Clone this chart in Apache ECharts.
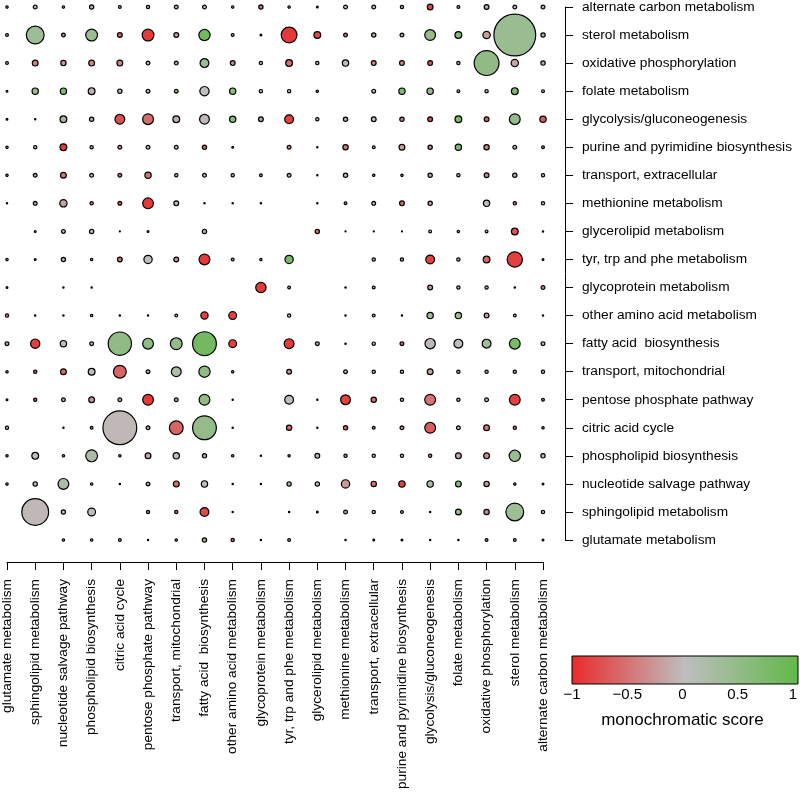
<!DOCTYPE html>
<html><head><meta charset="utf-8">
<script src="https://cdn.jsdelivr.net/npm/echarts@6/dist/echarts.min.js"></script>
<style>html,body{margin:0;padding:0;background:#fff}#c{width:800px;height:792px}</style>
</head><body><div id="c"></div>
<script>
const rowNames = ["alternate carbon metabolism","sterol metabolism","oxidative phosphorylation","folate metabolism","glycolysis/gluconeogenesis","purine and pyrimidine biosynthesis","transport, extracellular","methionine metabolism","glycerolipid metabolism","tyr, trp and phe metabolism","glycoprotein metabolism","other amino acid metabolism","fatty acid  biosynthesis","transport, mitochondrial","pentose phosphate pathway","citric acid cycle","phospholipid biosynthesis","nucleotide salvage pathway","sphingolipid metabolism","glutamate metabolism"];
const colNames = ["glutamate metabolism","sphingolipid metabolism","nucleotide salvage pathway","phospholipid biosynthesis","citric acid cycle","pentose phosphate pathway","transport, mitochondrial","fatty acid  biosynthesis","other amino acid metabolism","glycoprotein metabolism","tyr, trp and phe metabolism","glycerolipid metabolism","methionine metabolism","transport, extracellular","purine and pyrimidine biosynthesis","glycolysis/gluconeogenesis","folate metabolism","oxidative phosphorylation","sterol metabolism","alternate carbon metabolism"];
// bubble diameters (px) per row, top to bottom; 0 = no bubble
const sizes = [
 [3.5,5,3.5,5.5,4,4.5,5,5,3.5,5.5,3.5,3,5,5,4.5,7,4,6,5,5],
 [4,19,5,13,6,13,6,12.5,4,3,17,8,5,5.5,5,12,8,8.5,43,5.5],
 [4,7,6.5,7,7,5,5,10,6,4.5,8,4.5,7.5,6,6,6,4.5,26,8.5,5.5],
 [3,7.5,7.5,8,5.5,5,5,10.5,7.5,4.5,4.5,3.5,0,5,7.5,7.5,4,4.5,8,4],
 [3,2.5,8,5.5,11,12,8,11,7.5,6,10,4.5,5.5,6,5.5,6,8,6,12,7.5],
 [3.5,4.5,8,4.5,5,5,5,5.5,3,0,5,2.5,6.5,4,7,5.5,7.5,6.5,5,4],
 [3.5,5,7,5,5,7.5,4.5,5,4.5,4,5,2.5,5.5,3.5,3.5,5.5,4.5,6,5.5,4.5],
 [2.5,5,8.5,4.5,5,12,6,2.5,2.5,2.5,0,2.5,4,5,6,5.5,0,7.5,4.5,4.5],
 [0,3,5,5.5,2,3,0,5.5,0,0,0,5.5,2,2,2,4,3.5,4,8,2.5],
 [3.5,3,5.5,3.5,6,9.5,6,12,4,3.5,9.5,0,0,4.5,4.5,10,4.5,8,16.5,3],
 [3,0,2.5,2.5,0,0,0,0,0,11.5,4,0,2.5,4,0,6,4.5,4.5,2.5,5],
 [4.5,2.5,2.5,3.5,2.5,2.5,4,8.5,9,0,4.5,0,2.5,4,2.5,7.5,7.5,6,4,2.5],
 [5,10.5,7.5,5,24.5,12,13,25,9,0,11,5,2.5,4.5,5,11.5,10,10,12,5],
 [3.5,4.5,7,8,14,5,11,12.5,3.5,0,6,0,5,4.5,4.5,7,4.5,4.5,4.5,4.5],
 [3,4.5,5,7,5,12,5,12,2.5,0,10,2.5,11,6.5,4.5,12,4.5,5,12,4],
 [4.5,0,2.5,4,35,5,15,25,2.5,0,6.5,2.5,5.5,4,5,12,5,7,4.5,3.5],
 [3.5,8,3.5,13,3.5,7,7.5,5.5,3.5,2.5,3.5,6,4.5,4.5,4.5,4.5,7,7,12.5,5.5],
 [3.5,5.5,12,3.5,2.5,5,7,7.5,2.5,2.5,5.5,5.5,9.5,6.5,7.5,7.5,7,6.5,3.5,3],
 [0,28,5.5,9,0,4.5,4.5,10,2.5,0,2.5,3,5,4.5,4,2.5,7,6.5,19,4.5],
 [0,0,3.5,3.5,4,2.5,3.5,5.5,4.5,2.5,4,0,2.5,3,3,2.5,2.5,4,4,3]
];
// monochromatic score per bubble, -1 .. 1
const scores = [
 [0,0,0,-0.1,0,-0.1,0.3,0,0,-0.5,0,0,0,0,-0.2,-0.85,0,0.3,0.2,0.3],
 [0,0.35,-0.35,0.4,-0.6,-0.9,-0.2,0.8,0,0,-0.9,-0.8,-0.5,0.35,0.3,0.45,0.65,-0.2,0.4,0.3],
 [0,-0.4,-0.25,-0.35,-0.4,0,0.3,0.4,-0.35,0,-0.55,0,0,-0.35,-0.35,-0.7,-0.2,0.5,-0.15,0.25],
 [0,0.35,0.7,-0.1,0,0,0.5,0,0.55,0,0,0,0,0,0.65,0.45,0,-0.15,0.7,0],
 [0,0,0.3,-0.1,-0.75,-0.55,-0.1,-0.05,0.6,-0.2,-0.85,0,-0.1,0,-0.35,-0.75,0.7,-0.6,0.45,-0.65],
 [0,0,-0.9,0,-0.3,0,0,-0.6,0,0,-0.4,0,-0.45,0,-0.2,-0.35,0.7,-0.4,0.3,-0.3],
 [0,0.4,-0.45,0,-0.4,-0.5,0,0,0,0,-0.1,0,0,0,0,-0.15,0.2,-0.35,0.3,0],
 [0,0.35,-0.2,-0.45,-0.65,-0.9,0,0,0,0,0,0,-0.4,0,-0.55,-0.2,0,0,-0.4,0],
 [0,0,0,0,0,0,0,0.35,0,0,0,-0.55,0,0,0,0,0,0,-0.75,0],
 [0,0,0.3,0,-0.5,0,-0.3,-0.9,0,0,0.75,0,0,0,-0.3,-0.85,0,-0.6,-0.85,0],
 [0,0,0,0,0,0,0,0,0,-0.9,0,0,0,0,0,-0.2,0,0,0,-0.35],
 [-0.5,0,0,0,0,0,0,-0.85,-0.85,0,0,0,0,0,0,0.4,0.35,-0.2,0,0],
 [0.35,-0.85,0,0.2,0.5,0.5,0.45,0.8,-0.85,0,-0.9,0.3,0,0,-0.6,-0.05,0,0.3,0.75,0],
 [0,-0.55,-0.55,0,-0.6,0.35,0.15,0.5,0,0,-0.25,0,0,0,0,-0.2,0.3,0.2,-0.15,0],
 [0,-0.65,-0.2,-0.3,0.4,-0.9,0.45,0.5,0,0,0,0,-0.85,-0.5,0,-0.5,0,0,-0.85,-0.4],
 [0.15,0,0,-0.4,-0.05,0.35,-0.6,0.45,0,0,-0.55,0,-0.6,-0.4,-0.4,-0.65,0,-0.45,-0.5,0],
 [0,0,0,0.2,0,-0.2,0,0.5,0,0,0,0,-0.4,0,0,-0.35,-0.2,-0.35,0.4,0],
 [0,0,0.2,0,0,-0.2,-0.55,0,0,0,0.3,0,-0.25,-0.5,-0.85,0.2,0.6,-0.25,0,0],
 [0,-0.05,0,0,0,-0.5,-0.5,-0.8,0,0,0,0,0.3,0.1,0,0,0.45,-0.35,0.35,0],
 [0,0,0,0,0,0,0,0.4,-0.55,0,0,0,0,0,0,0,0,-0.3,0,0]
];
const scoreColors = ['#ea2a2a', '#bebebe', '#62b84a'];
const legendTitle = 'monochromatic score';

const FONT = 'Liberation Sans, Arial, Helvetica, sans-serif';
const BORDER = 1.2;
const data = [];
for (let r = 0; r < sizes.length; r++) {
  for (let c = 0; c < sizes[r].length; c++) {
    if (sizes[r][c] > 0) data.push([c, r, sizes[r][c], scores[r][c]]);
  }
}
const axisCommon = {
  axisLine: {show: true, onZero: false, lineStyle: {color: '#000', width: 1}},
  axisTick: {show: true, length: 8, lineStyle: {color: '#000', width: 1}},
  splitLine: {show: false}
};
const chart = echarts.init(document.getElementById('c'), null, {renderer: 'canvas'});
chart.setOption({
  animation: false,
  backgroundColor: '#fff',
  textStyle: {fontFamily: FONT},
  grid: [
    {left: 5, top: 5, width: 538, height: 538},
    {left: 572, top: 656, width: 226, height: 28}
  ],
  xAxis: [
    Object.assign({gridIndex: 0, type: 'value', min: 0, max: colNames.length - 1, interval: 1,
     position: 'bottom', offset: 22,
     axisLabel: {rotate: 90, fontSize: 13.7, color: '#000', margin: 17, fontFamily: FONT,
       formatter: v => colNames[Math.round(v)] || ''}}, axisCommon),
    {gridIndex: 1, type: 'value', min: -1, max: 1, interval: 0.5,
     axisLine: {show: false, onZero: false}, axisTick: {show: false}, splitLine: {show: false},
     axisLabel: {fontSize: 15, color: '#000', margin: 3, fontFamily: FONT,
       formatter: v => String(v).replace('-', '\u2212')},
     name: legendTitle, nameLocation: 'middle', nameGap: 28,
     nameTextStyle: {fontSize: 17, color: '#000', fontFamily: FONT}}
  ],
  yAxis: [
    Object.assign({gridIndex: 0, type: 'value', min: 0, max: rowNames.length - 1, interval: 1, inverse: true,
     position: 'right', offset: 22,
     axisLabel: {fontSize: 13.7, color: '#000', margin: 17, fontFamily: FONT,
       formatter: v => rowNames[Math.round(v)] || ''}}, axisCommon),
    {gridIndex: 1, type: 'value', show: false, min: 0, max: 1}
  ],
  visualMap: {
    show: false, type: 'continuous', dimension: 3, min: -1, max: 1, seriesIndex: 0,
    inRange: {color: scoreColors}
  },
  series: [{
    type: 'scatter', xAxisIndex: 0, yAxisIndex: 0, clip: false,
    data: data,
    symbol: 'circle',
    symbolSize: v => Math.max(v[2] - BORDER, 1),
    itemStyle: {borderColor: '#000', borderWidth: BORDER, opacity: 1}
  }],
  graphic: [{
    type: 'rect', z: 100,
    shape: {x: 572, y: 656, width: 226, height: 28},
    style: {
      fill: new echarts.graphic.LinearGradient(0, 0, 1, 0, [
        {offset: 0, color: scoreColors[0]},
        {offset: 0.5, color: scoreColors[1]},
        {offset: 1, color: scoreColors[2]}
      ]),
      stroke: '#000', lineWidth: 1
    }
  }]
});
</script></body></html>
